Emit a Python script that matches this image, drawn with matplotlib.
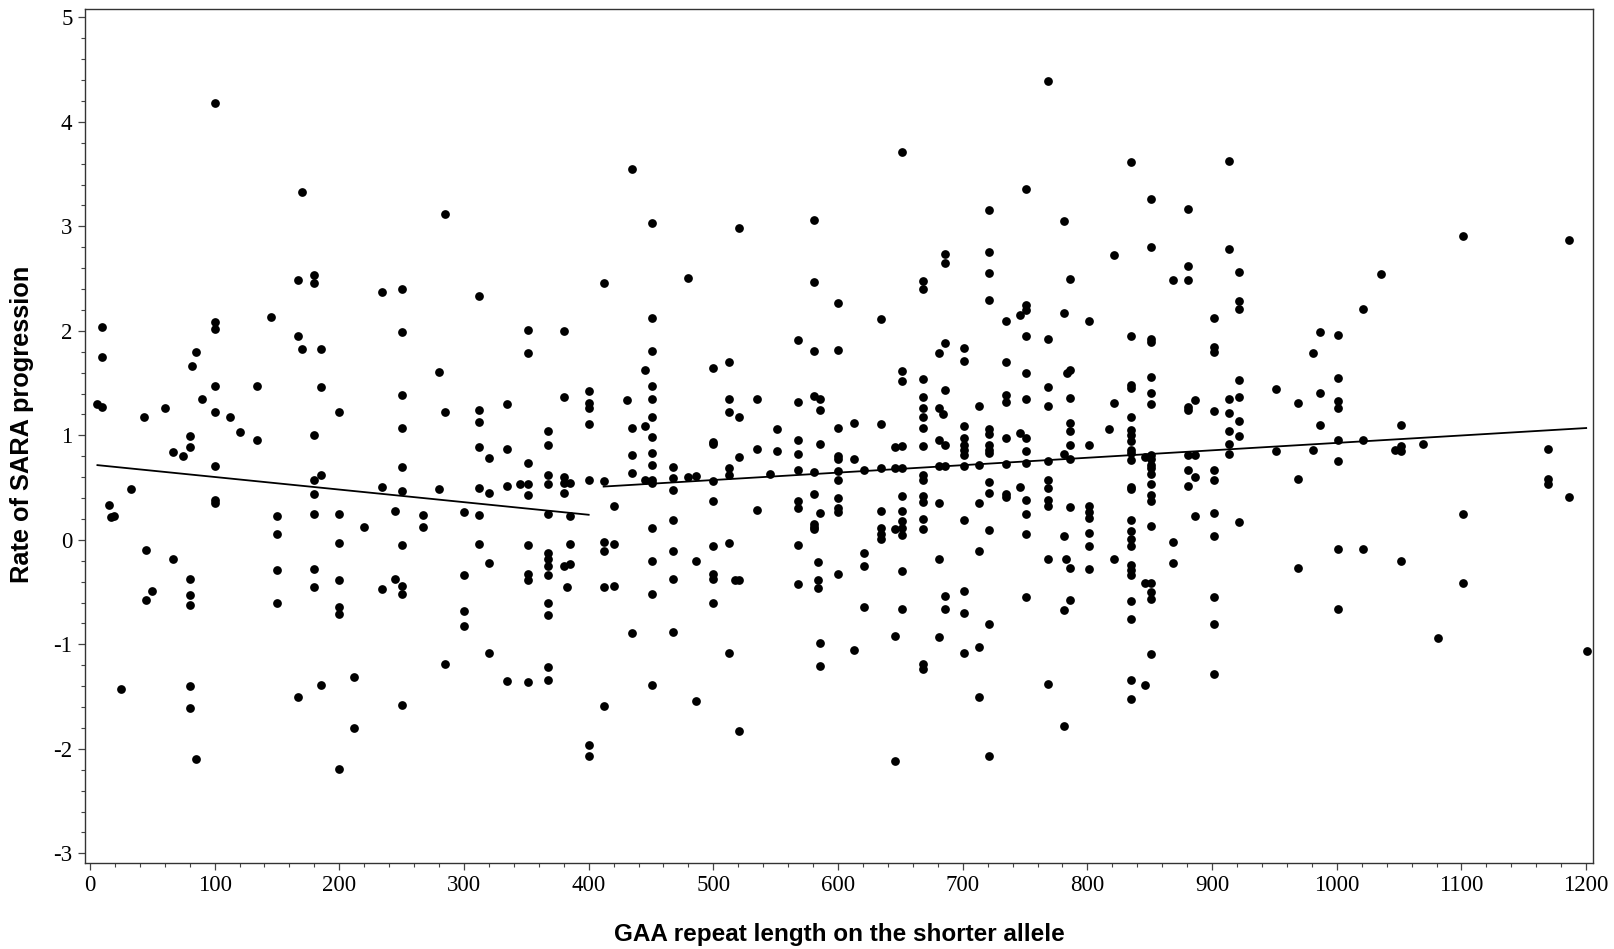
import matplotlib
matplotlib.use("Agg")
import matplotlib.pyplot as plt
from matplotlib.ticker import MultipleLocator, FixedLocator

# ---- data (x = GAA repeat length, y = SARA progression rate) ----
gaa_x = [
    6, 10, 10, 10, 15, 17, 19.5, 25, 33, 43, 45, 45, 49.5,
    60, 67, 67, 75, 80, 80, 80, 80, 80, 80, 80, 82, 85, 85, 90,
    100, 100, 100, 100, 100, 100, 100, 100,
    112, 120, 134, 134, 145, 150, 150, 150, 150, 167, 167, 167, 170, 170,
    180, 180, 180, 180, 180, 180, 180, 180, 185, 185, 185, 185,
    200, 200, 200, 200, 200, 200, 200,
    212, 212, 220, 234.5, 234.5, 234.5, 245, 245,
    250, 250, 250, 250, 250, 250, 250, 250, 250, 250,
    267, 267, 280, 280, 285, 285, 285,
    300, 300, 300, 300,
    312, 312, 312, 312, 312, 312, 312, 320, 320, 320, 320,
    334.5, 334.5, 334.5, 334.5, 345, 351, 351, 351, 351, 351, 351, 351, 351, 351,
    367.6, 367.6, 367.6, 367.6, 367.6, 367.6, 367.6, 367.6, 367.6, 367.6, 367.6, 367.6, 367.6,
    380.5, 380.5, 380.5, 380.5, 380.5, 380.5, 383, 385, 385, 385, 385,
    400, 400, 400, 400, 400, 400, 400,
    412, 412, 412, 412, 412, 412, 420.6, 420.6, 420.6, 430.5,
    434.5, 434.5, 434.5, 434.5, 434.5, 445.5, 445.5, 445.2,
    450.5, 450.5, 450.5, 450.5, 450.5, 450.5, 450.5, 450.5, 450.5, 450.5, 450.5, 450.5, 450.5, 450.5, 450.5,
    468, 468, 468, 468, 468, 468, 468, 480, 480, 486, 486, 486,
    500, 500, 500, 500, 500, 500, 500, 500, 500,
    512.5, 512.5, 512.5, 512.5, 512.5, 512.5, 512.5, 517, 520.6, 520.6, 520.8, 520.8, 520.8,
    534.7, 534.7, 534.7, 545.4, 550.8, 550.8,
    567.6, 567.6, 567.6, 567.6, 567.6, 567.6, 567.6, 567.6, 567.6,
    581, 581, 581, 581, 581, 581, 581, 581, 581, 583.7, 583.7, 583.7,
    585.5, 585.5, 585.5, 585.5, 585.5, 585.5,
    600, 600, 600, 600, 600, 600, 600, 600, 600, 600, 600,
    612.5, 612.5, 612.5, 620.6, 620.6, 620.6, 620.6,
    634.8, 634.8, 634.8, 634.8, 634.8, 634.8, 634.8,
    645.7, 645.7, 645.7, 645.7, 645.7,
    651, 651, 651, 651, 651, 651, 651, 651, 651, 651, 651, 651,
    668, 668, 668, 668, 668, 668, 668, 668, 668, 668, 668, 668, 668, 668, 668, 668,
    680.7, 680.7, 680.7, 680.7, 680.7, 680.7, 680.7, 684,
    685.5, 685.5, 685.5, 685.5, 685.5, 685.5, 685.5, 685.5,
    701, 701, 701, 701, 701, 701, 701, 701, 701, 701, 701, 701,
    713, 713, 713, 713, 713, 713,
    721, 721, 721, 721, 721, 721, 721, 721, 721, 721, 721, 721, 721, 721,
    734.5, 734.5, 734.5, 734.5, 734.5, 734.5, 734.5, 734.5,
    746, 746, 746,
    751, 751, 751, 751, 751, 751, 751, 751, 751, 751, 751, 751, 751,
    768, 768, 768, 768, 768, 768, 768, 768, 768, 768, 768,
    781, 781, 781, 781, 781, 781, 783,
    784, 786, 786, 786, 786, 786, 786, 786, 786, 786, 786,
    801, 801, 801, 801, 801, 801, 801, 801,
    817.6, 821.4, 821.4, 821.4,
    834.8, 834.8, 834.8, 834.8, 834.8, 834.8, 834.8, 834.8, 834.8, 834.8, 834.8, 834.8, 834.8,
    834.8, 834.8, 834.8, 834.8, 834.8, 834.8, 834.8, 834.8, 834.8, 834.8, 834.8,
    846.2, 846.2, 846.2,
    851, 851, 851, 851, 851, 851, 851, 851, 851, 851, 851, 851, 851, 851, 851, 851, 851, 851, 851, 851,
    868.4, 868.4, 868.4,
    881, 881, 881, 881, 881, 881, 881, 881,
    886.6, 886.6, 886.6, 886.6,
    901.6, 901.6, 901.6, 901.6, 901.6, 901.6, 901.6, 901.6, 901.6, 901.6, 901.6,
    913.6, 913.6, 913.6, 913.6, 913.6, 913.6, 913.6,
    921.8, 921.8, 921.8, 921.8, 921.8, 921.8, 921.8, 921.8,
    951.3, 951.3, 968.7, 968.7, 968.7, 981.3, 981.3, 986.6, 986.6, 986.6,
    1001.3, 1001.3, 1001.3, 1001.3, 1001.3, 1001.3, 1001.3, 1001.3,
    1021.4, 1021.4, 1021.4, 1035.5, 1046.8, 1051.6, 1051.6, 1051.6, 1051.6, 1069,
    1081.5, 1101.5, 1101.5, 1101.5, 1169, 1169, 1169, 1186.6, 1186.6, 1201,
]

sara_y = [
    1.30, 1.27, 2.04, 1.75, 0.33, 0.22, 0.23, -1.43, 0.49, 1.18, -0.10, -0.58, -0.49,
    1.26, 0.84, -0.18, 0.80, 0.99, 0.89, -0.37, -0.53, -0.62, -1.40, -1.61, 1.66, 1.80, -2.10, 1.35,
    4.18, 2.08, 2.02, 1.47, 1.22, 0.71, 0.38, 0.35,
    1.18, 1.03, 1.47, 0.96, 2.13, 0.23, 0.06, -0.29, -0.60, 2.49, 1.95, -1.50, 3.33, 1.83,
    2.53, 2.46, 1.00, 0.57, 0.44, 0.25, -0.28, -0.45, 1.83, 1.46, 0.62, -1.39,
    1.22, 0.25, -0.03, -0.38, -0.64, -0.71, -2.19,
    -1.31, -1.80, 0.12, 2.37, 0.51, -0.47, 0.28, -0.37,
    2.40, 1.99, 1.39, 1.07, 0.70, 0.47, -0.05, -0.44, -0.52, -1.58,
    0.24, 0.12, 1.61, 0.49, 3.12, 1.22, -1.19,
    0.27, -0.34, -0.68, -0.82,
    2.33, 1.24, 1.13, 0.89, 0.50, 0.24, -0.04, 0.78, 0.45, -0.22, -1.08,
    1.30, 0.87, 0.52, -1.35, 0.53, 2.01, 1.79, 0.74, 0.53, 0.43, -0.05, -0.33, -0.38, -1.36,
    1.04, 0.91, 0.62, 0.53, 0.25, -0.13, -0.18, -0.25, -0.34, -0.60, -0.72, -1.22, -1.34,
    2.00, 1.37, 0.60, 0.54, 0.45, -0.25, -0.45, 0.54, 0.23, -0.04, -0.23,
    1.42, 1.31, 1.26, 1.11, 0.57, -1.96, -2.07,
    2.46, 0.56, -0.02, -0.11, -0.45, -1.59, 0.32, -0.04, -0.44, 1.34,
    3.55, 1.07, 0.81, 0.64, -0.89, 1.63, 1.09, 0.57,
    3.03, 2.12, 1.81, 1.47, 1.35, 1.18, 0.98, 0.83, 0.72, 0.57, 0.54, 0.11, -0.20, -0.52, -1.39,
    0.70, 0.59, 0.48, 0.19, -0.11, -0.37, -0.88, 2.51, 0.60, 0.61, -0.20, -1.54,
    1.64, 0.94, 0.92, 0.56, 0.37, -0.06, -0.33, -0.37, -0.60,
    1.70, 1.35, 1.22, 0.69, 0.62, -0.03, -1.08, -0.38, 2.98, 1.18, 0.79, -0.38, -1.83,
    1.35, 0.87, 0.29, 0.63, 1.06, 0.85,
    1.91, 1.32, 0.96, 0.82, 0.67, 0.37, 0.30, -0.05, -0.42,
    3.06, 2.47, 1.81, 1.38, 0.65, 0.44, 0.15, 0.12, 0.10, -0.21, -0.38, -0.46,
    1.35, 1.24, 0.92, 0.26, -0.99, -1.21,
    2.27, 1.82, 1.07, 0.80, 0.77, 0.66, 0.57, 0.40, 0.30, 0.27, -0.33,
    1.12, 0.77, -1.05, 0.67, -0.13, -0.25, -0.64,
    2.11, 1.11, 0.69, 0.28, 0.11, 0.06, 0.01,
    0.89, 0.69, 0.10, -0.92, -2.12,
    3.71, 1.62, 1.52, 0.90, 0.69, 0.42, 0.28, 0.18, 0.11, 0.05, -0.30, -0.66,
    2.48, 2.40, 1.54, 1.37, 1.26, 1.18, 1.07, 0.90, 0.62, 0.57, 0.42, 0.36, 0.20, 0.10, -1.19, -1.24,
    1.79, 1.26, 0.96, 0.71, 0.35, -0.18, -0.93, 1.20,
    2.74, 2.65, 1.88, 1.43, 0.91, 0.71, -0.54, -0.66,
    1.84, 1.71, 1.09, 0.97, 0.91, 0.86, 0.81, 0.71, 0.19, -0.49, -0.70, -1.08,
    1.28, 0.72, 0.35, -0.11, -1.03, -1.50,
    3.16, 2.75, 2.55, 2.30, 1.06, 1.01, 0.91, 0.86, 0.83, 0.55, 0.45, 0.09, -0.81, -2.07,
    2.09, 1.70, 1.39, 1.32, 0.97, 0.73, 0.44, 0.41,
    2.15, 1.02, 0.51,
    3.36, 2.25, 2.20, 1.95, 1.60, 1.35, 0.97, 0.85, 0.74, 0.38, 0.25, 0.06, -0.55,
    4.39, 1.92, 1.46, 1.28, 0.75, 0.57, 0.50, 0.38, 0.32, -0.18, -1.38,
    3.05, 2.17, 0.82, 0.04, -0.67, -1.78, -0.18,
    1.60, 2.50, 1.63, 1.36, 1.12, 1.04, 0.91, 0.77, 0.31, -0.27, -0.58,
    2.09, 0.91, 0.32, 0.27, 0.21, 0.07, -0.06, -0.28,
    1.06, 2.73, 1.31, -0.18,
    3.62, 1.95, 1.48, 1.45, 1.18, 1.05, 1.00, 0.95, 0.86, 0.83, 0.76, 0.51, 0.49,
    0.19, 0.08, 0.01, -0.06, -0.24, -0.29, -0.34, -0.59, -0.76, -1.34, -1.52,
    0.79, -0.41, -1.39,
    3.26, 2.80, 1.92, 1.89, 1.56, 1.41, 1.30, 0.81, 0.77, 0.72, 0.69, 0.63, 0.53, 0.43, 0.37, 0.13, -0.41, -0.50, -0.57, -1.09,
    2.49, -0.02, -0.22,
    3.17, 2.62, 2.49, 1.27, 1.24, 0.81, 0.67, 0.52,
    1.34, 0.81, 0.60, 0.23,
    2.12, 1.85, 1.80, 1.23, 0.67, 0.57, 0.26, 0.04, -0.55, -0.81, -1.28,
    3.63, 2.78, 1.35, 1.21, 1.04, 0.92, 0.82,
    2.56, 2.29, 2.21, 1.53, 1.37, 1.14, 0.99, 0.17,
    1.44, 0.85, 1.31, 0.58, -0.27, 1.79, 0.86, 1.99, 1.41, 1.10,
    1.96, 1.55, 1.33, 1.26, 0.96, 0.75, -0.09, -0.66,
    2.21, 0.96, -0.09, 2.54, 0.86, 1.10, 0.90, 0.85, -0.20, 0.92,
    -0.94, 2.91, 0.25, -0.41, 0.87, 0.58, 0.53, 2.87, 0.41, -1.06,
]

# fitted regression segments
fit_left_x = [6, 400]
fit_left_y = [0.715, 0.24]
fit_right_x = [412, 1200]
fit_right_y = [0.51, 1.07]

x_ticks = [0, 100, 200, 300, 400, 500, 600, 700, 800, 900, 1000, 1100, 1200]
y_ticks = [-3, -2, -1, 0, 1, 2, 3, 4, 5]
y_tick_labels = ["-3", "-2", "-1", "0", "1", "2", "3", "4", "5"]

x_label = "GAA repeat length on the shorter allele"
y_label = "Rate of SARA progression"

# ---- figure ----
fig = plt.figure(figsize=(16.15, 9.49), dpi=100)
ax = fig.add_axes([0.0526, 0.0909, 0.9338, 0.8996])

ax.plot(gaa_x, sara_y, linestyle="none", marker="o", markersize=6.3,
        color="black", markeredgewidth=0, zorder=3)
ax.plot(fit_left_x, fit_left_y, color="black", linewidth=1.3, zorder=4)
ax.plot(fit_right_x, fit_right_y, color="black", linewidth=1.3, zorder=4)

ax.set_xlim(-4, 1205.5)
ax.set_ylim(-3.09, 5.08)

ax.xaxis.set_major_locator(FixedLocator(x_ticks))
ax.xaxis.set_minor_locator(MultipleLocator(20))
ax.yaxis.set_major_locator(FixedLocator(y_ticks))
ax.yaxis.set_minor_locator(MultipleLocator(0.2))
ax.set_yticklabels(y_tick_labels)
ax.set_xticklabels([str(v) for v in x_ticks])

serif = "Liberation Serif"
for lab in ax.get_xticklabels() + ax.get_yticklabels():
    lab.set_fontfamily(serif)
    lab.set_fontsize(16.5)

ax.tick_params(axis="both", which="major", direction="out", length=5, width=0.9,
               color="#444444", pad=4)
ax.tick_params(axis="both", which="minor", direction="out", length=3, width=0.8,
               color="#444444")

for sp in ax.spines.values():
    sp.set_color("#333333")
    sp.set_linewidth(1.0)

ax.set_xlabel(x_label, fontfamily="Liberation Sans", fontweight="bold",
              fontsize=17.5, labelpad=19)
ax.set_ylabel(y_label, fontfamily="Liberation Sans", fontweight="bold",
              fontsize=18.3)
ax.yaxis.set_label_coords(-0.0335, 0.513)

fig.savefig("out.png", dpi=100, facecolor="white")
